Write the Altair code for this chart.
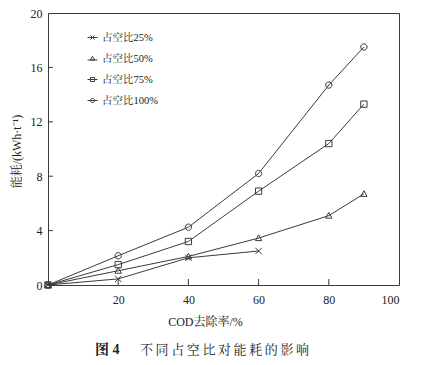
import altair as alt
import pandas as pd

x_vals = [0, 20, 40, 60, 80, 90]
s25 = [0, 0.45, 2.0, 2.5]
s50 = [0, 1.05, 2.1, 3.45, 5.1, 6.7]
s75 = [0, 1.5, 3.2, 6.9, 10.4, 13.3]
s100 = [0, 2.15, 4.25, 8.2, 14.7, 17.5]
series_names = ["占空比25%", "占空比50%", "占空比75%", "占空比100%"]
x_ticks = [20, 40, 60, 80]
y_ticks = [4, 8, 12, 16]
caption_num = "图 4"
caption_text = "\u2009".join("不同占空比对能耗的影响")

rows = []
for name, vals in zip(series_names, [s25, s50, s75, s100]):
    for xv, yv in zip(x_vals, vals):
        rows.append({"x": xv, "y": yv, "s": name})
df = pd.DataFrame(rows)

FONT = "Liberation Serif, Noto Serif CJK SC, Noto Sans CJK SC"
INK = "#3a3a3a"
TXT = "#222222"
W, H = 351, 272
TOP = 13  # page y of plot top

marker_paths = [
    "M-1,-1L1,1M-1,1L1,-1",
    "M0,-1L1,0.8L-1,0.8Z",
    "M-1,-1L1,-1L1,1L-1,1Z",
    "M-1,0A1,1 0 1,0 1,0A1,1 0 1,0 -1,0Z",
]
legend_paths = [
    "M-1,0L1,0M-0.4,-0.4L0.4,0.4M-0.4,0.4L0.4,-0.4",
    "M-1,0.3L1,0.3M0,-0.45L0.45,0.3L-0.45,0.3Z",
    "M-1,0L1,0M-0.4,-0.4L0.4,-0.4L0.4,0.4L-0.4,0.4Z",
    "M-1,0L1,0M-0.42,0A0.42,0.42 0 1,0 0.42,0A0.42,0.42 0 1,0 -0.42,0Z",
]

xs = alt.Scale(domain=[0, 100], nice=False)
ys = alt.Scale(domain=[0, 20], nice=False)

base = alt.Chart(df)

lines = base.mark_line(color=INK, strokeWidth=1).encode(
    x=alt.X("x:Q", scale=xs,
            axis=alt.Axis(title="COD去除率/%", values=[20, 40, 60, 80, 100],
                          tickSize=0, labelPadding=9, titleFontSize=12,
                          titleX=157, titleY=36, titleBaseline="middle", titleAlign="center")),
    y=alt.Y("y:Q", scale=ys,
            axis=alt.Axis(title="能耗/(kWh·t⁻¹)", values=[0, 4, 8, 12, 16, 20],
                          tickSize=0, labelPadding=6, titleFontSize=12,
                          titleX=-32, titleY=138, titleBaseline="middle", titleAlign="center",
                          titleAngle=270)),
    detail="s:N",
)

points = base.mark_point(filled=False, color=INK, strokeWidth=1, size=40, opacity=1).encode(
    x=alt.X("x:Q", scale=xs),
    y=alt.Y("y:Q", scale=ys),
    shape=alt.Shape("s:N", scale=alt.Scale(domain=series_names, range=marker_paths), legend=None),
)

legend_layer = base.transform_filter("datum.y < -1").mark_point(
    filled=False, color=INK, strokeWidth=1, size=100, opacity=1
).encode(
    x=alt.X("x:Q", scale=xs),
    y=alt.Y("y:Q", scale=ys),
    shape=alt.Shape(
        "s:N",
        scale=alt.Scale(domain=series_names, range=legend_paths),
        legend=alt.Legend(
            title=None, orient="none", legendX=39, legendY=24 - (TOP - 8),
            labelFont=FONT, labelFontSize=10.5, labelColor=TXT,
            symbolSize=100, symbolStrokeWidth=1, symbolStrokeColor=INK,
            symbolFillColor="transparent", rowPadding=10, labelOffset=4,
        ),
    ),
)

xt = pd.DataFrame({"t": x_ticks})
yt = pd.DataFrame({"t": y_ticks})
xtick_layer = alt.Chart(xt).mark_rule(color=INK, strokeWidth=1).encode(
    x=alt.X("t:Q", scale=xs), y=alt.value(H), y2=alt.value(H - 6)
)
ytick_layer = alt.Chart(yt).mark_rule(color=INK, strokeWidth=1).encode(
    y=alt.Y("t:Q", scale=ys), x=alt.value(0), x2=alt.value(5)
)

cap_num = alt.Chart(pd.DataFrame({"t": [caption_num]})).mark_text(
    font=FONT, fontSize=14, fontWeight="bold", color=TXT, align="left", baseline="middle"
).encode(text="t:N", x=alt.value(95 - 48), y=alt.value(350 - TOP))

cap_txt = alt.Chart(pd.DataFrame({"t": [caption_text]})).mark_text(
    font=FONT, fontSize=13, color=TXT, align="left", baseline="middle"
).encode(text="t:N", x=alt.value(140 - 48), y=alt.value(350 - TOP))

chart = (
    alt.layer(lines, points, legend_layer, xtick_layer, ytick_layer, cap_num, cap_txt)
    .resolve_scale(shape="independent")
    .properties(
        width=W, height=H,
        autosize=alt.AutoSizeParams(type="none"),
        padding={"left": 40, "top": TOP - 8, "right": 22, "bottom": 349 - (TOP - 8) - H},
    )
    .configure_view(stroke=INK, strokeWidth=1)
    .configure_axis(
        domain=False, grid=False, labelFont=FONT, titleFont=FONT,
        labelFontSize=12, titleFontSize=11, labelColor=TXT, titleColor=TXT,
        titleFontWeight="normal",
    )
)

chart.save("out.html", embed_options={"renderer": "svg", "actions": False})
